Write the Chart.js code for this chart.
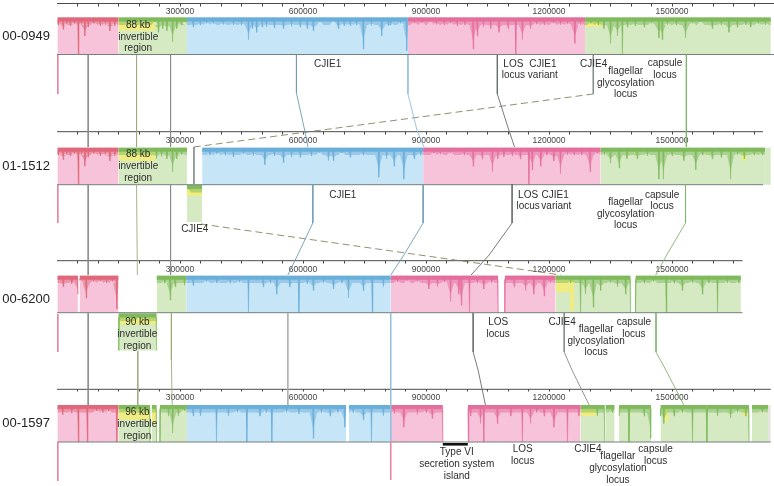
<!DOCTYPE html>
<html><head><meta charset="utf-8">
<style>html,body{margin:0;padding:0;background:#fff}canvas{display:block;filter:blur(.35px)}</style>
<script src="https://cdn.jsdelivr.net/npm/chart.js@4"></script></head>
<body><canvas id="c" width="774" height="486"></canvas>
<script>
// ---------- data (genome positions in kb, depth = fraction of block height) ----------
const trackNames = ['00-0949','01-1512','00-6200','00-1597'];
const trackEndsKb = [1749,1722,1672,1741];
const majorTick = 300000, minorTick = 50000;
// block: [start, end, colour, lower row?]
const blocks0 = [[1,150,'red',0],[150,317,'green',0],[317,856,'blue',0],[856,1288,'pink',0],[1288,1741,'green',0]];
const blocks1 = [[1,150,'red',0],[150,317,'green',0],[317,354,'green',1],[354,893,'blue',0],[893,1326,'pink',0],[1326,1727,'green',0]];
const blocks2 = [[1,51,'red',0],[55,150,'red',0],[150,243,'green',1],[243,315,'green',0],[315,814,'blue',0],[814,1076,'pink',0],[1092,1216,'pink',0],[1216,1399,'green',0],[1411,1668,'green',0]];
const blocks3 = [[1,150,'red',0],[150,227,'green',0],[231,243,'green',0],[251,317,'green',0],[317,705,'blue',0],[712,814,'blue',0],[814,941,'pink',0],[1002,1277,'pink',0],[1277,1336,'green',0],[1338,1360,'green',0],[1371,1395,'green',0],[1395,1449,'green',0],[1472,1585,'green',0],[1585,1688,'green',0],[1695,1734,'green',0]];
// pale unprofiled tails past the last aligned block: [track, start, end, colour]
const tails = [[1,1727,1741,'green'],[3,1734,1741,'gray']];
// yellow patches: [start, end, depth, lower row?]
const yellow0 = [[150,240,.36,0],[1288,1329,.25,0]];
const yellow1 = [[150,240,.36,0],[317,354,.3,1],[1407,1413,.2,0],[1585,1592,.2,0],[1670,1682,.35,0]];
const yellow2 = [[150,243,.3,1],[1216,1251,.45,0],[1251,1262,.95,0]];
const yellow3 = [[150,227,.4,0],[231,243,.5,0],[1277,1315,.3,0],[1482,1492,.45,0],[1672,1684,.3,0]];
// profile spikes: [position, depth]
const spikes0 = [[3,.2],[15,.32],[24,.18],[32,.22],[42,.16],[52,1],[60,.2],[68,.5],[76,.25],[90,.16],[105,.22],[118,.2],[129,.36],[141,.22],
 [239,.12],[247,.4],[258,.3],[268,.36],[282,.66],[292,.3],[303,.2],[312,.12],
 [332,.26],[349,.2],[365,.16],[381,.16],[405,.18],[430,.2],[450,.22],[467,.6],[476,.3],[487,.4],[500,.26],[511,.26],[530,.28],[552,.3],[572,.24],[593,.26],[610,.3],[625,.36],[641,.12],[674,.1],[686,.3],[700,.22],[715,.22],[730,.2],[747,.85],[767,.22],[792,.5],[808,.22],[814,.2],[838,.16],[853,.9],
 [871,.15],[890,.14],[911,.12],[925,.18],[944,.2],[960,.16],[976,.22],[995,.2],[1015,.85],[1025,.5],[1040,.26],[1058,.3],[1078,.4],[1100,.3],[1119,1],[1135,.6],[1155,.3],[1170,.18],[1188,.2],[1210,.15],[1228,.2],[1245,.18],[1263,.7],[1277,.2],
 [1302,.16],[1320,.2],[1334,.3],[1350,.7],[1367,.5],[1379,1],[1391,.26],[1410,.22],[1432,.26],[1450,.16],[1468,.55],[1476,.6],[1489,.2],[1510,.2],[1533,.55],[1550,.16],[1570,.12],[1598,.3],[1620,.2],[1639,.4],[1659,.26],[1680,.2],[1692,.26],[1710,.16],[1728,.2]];
const spikes1 = [[3,.2],[15,.32],[24,.18],[32,.22],[42,.16],[52,1],[60,.2],[68,.5],[76,.25],[90,.16],[105,.22],[118,.2],[129,.36],[141,.22],
 [243,.3],[255,.24],[268,.3],[282,.66],[292,.3],[304,.2],
 [373,.2],[390,.16],[410,.2],[430,.25],[455,.18],[479,.22],[507,.46],[530,.22],[552,.4],[572,.26],[593,.26],[620,.22],[640,.14],[662,.35],[674,.35],[695,.14],[715,.26],[747,.2],[785,.8],[804,.3],[822,.5],[846,.85],[871,.3],[887,.2],
 [919,.15],[935,.18],[960,.14],[993,.2],[1015,.5],[1037,.3],[1062,.65],[1075,.3],[1090,.25],[1110,.22],[1130,.3],[1151,1],[1159,.6],[1180,.5],[1195,.2],[1212,.36],[1228,.7],[1245,.2],[1261,.2],[1280,.2],[1300,.65],[1318,.16],
 [1335,.2],[1350,.42],[1371,.55],[1390,.3],[1415,.3],[1440,.22],[1468,.85],[1479,.85],[1500,.22],[1529,.35],[1558,.6],[1575,.2],[1598,.3],[1620,.26],[1643,.85],[1660,.2],[1676,.3],[1700,.2],[1720,.2]];
const spikes2 = [[15,.3],[36,.22],[51,.5],[56,.12],[71,.6],[89,.16],[105,.14],[121,.2],[135,.16],[146,.9],
 [263,.2],[276,.66],[288,.3],[311,.26],
 [332,.26],[365,.16],[390,.2],[422,.2],[445,.18],[467,1],[503,.3],[520,.2],[536,.5],[568,.3],[590,1],[610,.22],[625,.4],[650,.2],[674,.35],[695,.2],[711,.6],[747,.4],[769,1],[796,.3],
 [830,.16],[855,.14],[879,.16],[907,.36],[928,.3],[945,.18],[960,.7],[980,.5],[986,.8],[1006,1],[1025,.2],[1041,.36],[1060,.2],[1076,1],[1092,1],[1115,.3],[1143,.4],[1163,.5],[1188,.55],[1204,.2],
 [1253,.2],[1277,1],[1289,.5],[1308,.85],[1326,.4],[1350,.2],[1367,.3],[1387,.5],[1399,1],[1411,1],[1432,.2],[1455,.16],[1486,1],[1505,.2],[1525,.4],[1550,.2],[1574,.5],[1590,.2],[1611,1],[1635,.2],[1663,.2]];
const spikes3 = [[14,.26],[36,.22],[52,1],[74,1],[97,.16],[112,.2],[125,.16],[146,1],
 [227,1],[243,1],[251,1],[272,.3],[282,.76],[296,.3],[310,.15],
 [332,.3],[350,.3],[389,1],[418,.3],[440,.2],[463,1],[495,.3],[510,.2],[524,1],[560,.2],[590,.24],[625,.9],[645,.22],[666,.3],[685,.2],[702,.6],[722,.2],[747,.4],[767,1],[796,.3],
 [822,.22],[846,.6],[879,.26],[900,.2],[915,.36],[941,1],[1003,1],[1009,.3],[1033,.5],[1041,1],[1074,.5],[1107,.3],[1135,1],[1155,.5],[1170,.2],[1188,.3],[1212,.6],[1245,1],[1273,.3],
 [1318,.3],[1336,1],[1354,.2],[1371,.3],[1395,1],[1432,.3],[1448,.9],[1472,.3],[1480,.5],[1505,.3],[1525,.2],[1550,1],[1585,1],[1611,.3],[1643,.35],[1660,.2],[1680,.3],[1688,1],[1720,.2]];
const lowerSpikes = [[],[[318,.1]],[[151,1],[200,.12],[243,1]],[]];
// connectors: [colour group, dashed?, [position, row-level] ...]
const connectors = [
 ['gray',0,[[76,55],[76,147]]],['gray',0,[[76,184],[76,275]]],['gray',0,[[76,313],[76,405]]],
 ['olive',0,[[194,55],[194,147]]],['olive',0,[[194,184],[196,275]]],['olive',0,[[197,351],[197,405]]],
 ['gray',0,[[277,55],[277,147]]],['gray',0,[[277,184],[277,275]]],['olive',0,[[279,313],[279,360],[281,405]]],
 ['steel',0,[[584,55],[584,93],[604,130],[612,147]]],['steel',0,[[624,184],[624,223],[587,255],[563,275]]],['silver',0,[[563,313],[563,405]]],
 ['sky',0,[[856,55],[856,94],[878,130],[895,147]]],['steel',0,[[893,184],[893,223],[846,255],[814,275]]],['sky',0,[[814,313],[814,441]]],
 ['dark',0,[[1074,55],[1074,94],[1102,130],[1116,147]]],['dark',0,[[1110,184],[1110,223],[1054,255],[1010,275]]],['dark',0,[[1015,313],[1015,352],[1027,370],[1045,405]]],
 ['leaf',0,[[1535,55],[1535,147]]],['leaf',0,[[1533,184],[1533,223],[1487,255],[1460,275]]],['leaf',0,[[1461,313],[1461,352],[1485,370],[1529,405]]],
 ['gray',0,[[1308,55],[1308,94]]],['dash',1,[[1308,94],[334,147]]],['gray',0,[[334,147],[334,184]]],
 ['dash',1,[[351,224],[1229,275]]],['gray',0,[[1237,313],[1237,352],[1256,370],[1298,405]]],
 ['rose',0,[[2,55],[2,94]]],['rose',0,[[2,185],[2,223]]],['rose',0,[[2,314],[2,352]]],['rose',0,[[2,442],[2,481]]],['rose',0,[[814,442],[814,480]]]
];
const islandBar = [941,1002];
// text labels: [position, level, lines]
const notes = [
 [198,25.7,'88 kb'],[198,37,'invertible'],[198,48.7,'region'],[660,64.3,'CJIE1'],[1113,64.3,'LOS'],[1113,75.7,'locus'],[1185,64.3,'CJIE1'],[1185,75.7,'variant'],[1309,64.3,'CJIE4'],[1387,71,'flagellar'],[1387,83,'glycosylation'],[1387,94.7,'locus'],[1483,63.3,'capsule'],[1483,75,'locus'],
 [198,154.7,'88 kb'],[198,166.7,'invertible'],[198,178.3,'region'],[336,229,'CJIE4'],[697,195,'CJIE1'],[1149,195,'LOS'],[1149,206.7,'locus'],[1215,195,'CJIE1'],[1218,206.7,'variant'],[1387,202,'flagellar'],[1387,214,'glycosylation'],[1387,225.7,'locus'],[1476,195,'capsule'],[1476,206.7,'locus'],
 [196,322.3,'90 kb'],[196,334.3,'invertible'],[196,346.3,'region'],[1076,322.3,'LOS'],[1076,334.3,'locus'],[1232,322.3,'CJIE4'],[1315,329,'flagellar'],[1315,341,'glycosylation'],[1315,352.7,'locus'],[1407,322.3,'capsule'],[1407,334.3,'locus'],
 [196,412.3,'96 kb'],[196,424.3,'invertible'],[196,436.3,'region'],[975,452.7,'Type VI'],[975,464.7,'secretion system'],[975,476.7,'island'],[1136,449.7,'LOS'],[1136,461.3,'locus'],[1295,449.7,'CJIE4'],[1368,456.7,'flagellar'],[1368,468.7,'glycosylation'],[1368,480.3,'locus'],[1460,449.7,'capsule'],[1460,461.3,'locus']
];
// ---------- layout & styling ----------
const axisY = [3.5,131.7,260.7,389.3];
const blockTop = [17.5,147.7,275.7,405];
const labelLevel = [36,166,299,423];
const blockH = 37;
const lowerTop = [55,185,313.5,441];
const fills = {red:'#F6C3DA',pink:'#F6C3DA',green:'#D5E9C3',blue:'#C6E5F7',gray:'#E4E6E0'};
const strokes = {red:'#E0687A',pink:'#E46E9C',green:'#7FBA5C',blue:'#6AAEDA'};
const halos = {red:'rgba(224,104,122,.5)',pink:'rgba(228,110,156,.5)',green:'rgba(127,186,92,.5)',blue:'rgba(106,174,218,.5)'};
const lineColours = {gray:'#858D8A',olive:'#9CAA7C',steel:'#6F9DB4',silver:'#ABB0AE',sky:'#92BEDA',dark:'#686D6D',leaf:'#7FB56C',dash:'#85855C',rose:'#E77F9A'};
const FLOOR = .1, HALO_FLOOR = .2, W = 1.6, HALO_W = 9;

const allBlocks=[blocks0,blocks1,blocks2,blocks3], allYellow=[yellow0,yellow1,yellow2,yellow3], allSpikes=[spikes0,spikes1,spikes2,spikes3];
const ds=[];
const bp=k=>k*1000;
function add(points,o,order){ds.push(Object.assign({data:points.map(p=>({x:bp(p[0]),y:p[1]})),pointRadius:0,borderWidth:1,fill:false,tension:0,order},o));}
function profile(b,sp,top,floor,w,scale){
  const line=[[b[0],top+floor*blockH]];
  sp.forEach(s=>{line.push([Math.max(b[0],s[0]-w),top+floor*blockH],[s[0],top+s[1]*scale*blockH],[Math.min(b[1],s[0]+w),top+floor*blockH]);});
  line.push([b[1],top+floor*blockH]);
  return line;
}

connectors.forEach(c=>add(c[2],{borderColor:lineColours[c[0]],borderDash:c[1]?[7,4]:[],borderWidth:.9},1));
add([[islandBar[0],444.3],[islandBar[1],444.3]],{borderColor:'#111',borderWidth:2.6},1);
tails.forEach(r=>add([[r[1],blockTop[r[0]]],[r[2],blockTop[r[0]]]],{borderWidth:0,backgroundColor:fills[r[3]],fill:{value:blockTop[r[0]]+blockH}},6));
trackNames.forEach((n,t)=>{
  add([[0,axisY[t]],[trackEndsKb[t],axisY[t]]],{borderColor:'#4a4a4a',borderWidth:1},2);
  const base=blockTop[t]+blockH;
  add([[0,base],[trackEndsKb[t],base]],{borderColor:'#76807F',borderWidth:1},2);
  allBlocks[t].forEach(b=>{
    const top=b[3]?lowerTop[t]:blockTop[t];
    const sp=(b[3]?lowerSpikes[t]:allSpikes[t]).filter(s=>s[0]>=b[0]&&s[0]<=b[1]);
    add(profile(b,sp,top,FLOOR,W,1),{borderColor:strokes[b[2]],backgroundColor:strokes[b[2]],borderWidth:.5,fill:{value:top}},3);
    add(profile(b,sp.filter(s=>s[1]<.95),top,HALO_FLOOR,HALO_W,.72),{borderWidth:0,backgroundColor:halos[b[2]],fill:{value:top}},4);
    add([[b[0],top],[b[1],top]],{borderWidth:0,backgroundColor:fills[b[2]],fill:{value:top+blockH}},6);
  });
  allYellow[t].forEach(y=>{
    const top=y[3]?lowerTop[t]:blockTop[t];
    add([[y[0],top+1],[y[1],top+1]],{borderWidth:0,backgroundColor:'#EFEC82',fill:{value:top+y[2]*blockH}},5);
  });
});

const notesPlugin={id:'notes',afterDatasetsDraw(ch){
  const c=ch.ctx,x=ch.scales.x,y=ch.scales.y;
  c.save();c.font='10px "Liberation Sans"';c.fillStyle='#2e2e2e';c.textAlign='center';c.textBaseline='middle';
  notes.forEach(n=>c.fillText(n[2],x.getPixelForValue(bp(n[0])),y.getPixelForValue(n[1])));
  c.restore();
}};

function xAxis(t){return {axis:'x',type:'linear',min:0,max:1748780,display:true,position:{y:axisY[t]},
  border:{display:false},grid:{drawOnChartArea:false,drawTicks:true,tickLength:2.5,color:'#444',lineWidth:1},
  afterBuildTicks(s){const a=[];for(let v=minorTick;v<=trackEndsKb[t]*1000;v+=minorTick)a.push({value:v});s.ticks=a;},
  ticks:{autoSkip:false,maxRotation:0,minRotation:0,padding:1,color:'#444',font:{family:'"Liberation Sans"',size:8.5},
    callback:v=>v%majorTick===0?String(v):''}};}

new Chart(document.getElementById('c'),{type:'line',data:{datasets:ds},plugins:[notesPlugin],options:{
  responsive:false,animation:false,devicePixelRatio:1,
  layout:{padding:0},
  plugins:{legend:{display:false},tooltip:{enabled:false}},
  scales:{
    x:{type:'linear',min:0,max:1748780,display:false},
    y:{type:'linear',min:0,max:486,reverse:true,
      border:{display:false},grid:{display:false,drawTicks:false},
      afterFit(s){s.width=57;s.paddingTop=0;s.paddingBottom=0;},
      afterBuildTicks(s){s.ticks=labelLevel.map(v=>({value:v}));},
      ticks:{autoSkip:false,padding:7,color:'#222',font:{family:'"Liberation Sans"',size:13},
        callback:(v,i)=>trackNames[i]}},
    t0:xAxis(0),t1:xAxis(1),t2:xAxis(2),t3:xAxis(3)
  }}});
</script></body></html>
